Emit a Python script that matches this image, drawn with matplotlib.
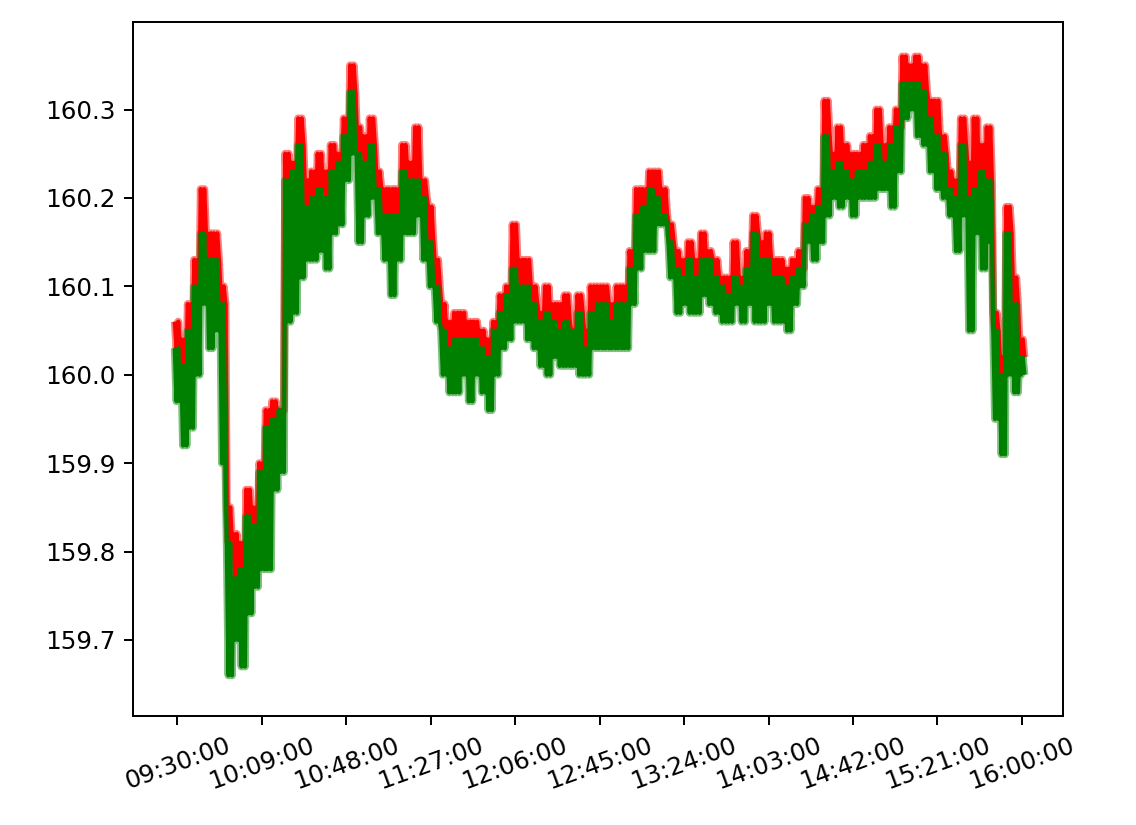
"""Bid/ask tick chart for one trading day (09:30-16:00)."""
import numpy as np
import matplotlib

matplotlib.use("Agg")
import matplotlib.pyplot as plt

# minutes after 09:30, sampled every 3 minutes
minutes = list(range(0, 391, 3))

ask_high = [
    160.06, 160.04, 160.08, 160.13, 160.21, 160.16, 160.16, 160.10, 159.85, 159.82,
    159.81, 159.87, 159.85, 159.90, 159.96, 159.97, 159.96, 160.25, 160.24, 160.29,
    160.22, 160.23, 160.25, 160.23, 160.26, 160.25, 160.29, 160.35, 160.28, 160.27,
    160.29, 160.23, 160.21, 160.21, 160.21, 160.26, 160.24, 160.28, 160.22, 160.19,
    160.13, 160.08, 160.06, 160.07, 160.07, 160.06, 160.06, 160.05, 160.04, 160.06,
    160.09, 160.10, 160.17, 160.13, 160.13, 160.10, 160.07, 160.10, 160.08, 160.08,
    160.09, 160.05, 160.09, 160.05, 160.10, 160.10, 160.10, 160.08, 160.10, 160.10,
    160.14, 160.21, 160.21, 160.23, 160.23, 160.21, 160.17, 160.14, 160.13, 160.15,
    160.13, 160.16, 160.14, 160.13, 160.11, 160.11, 160.15, 160.11, 160.14, 160.18,
    160.15, 160.16, 160.13, 160.13, 160.12, 160.13, 160.14, 160.20, 160.19, 160.21,
    160.31, 160.25, 160.28, 160.26, 160.25, 160.25, 160.26, 160.27, 160.30, 160.26,
    160.28, 160.30, 160.36, 160.35, 160.36, 160.35, 160.31, 160.31, 160.27, 160.23,
    160.22, 160.29, 160.24, 160.29, 160.26, 160.28, 160.07, 160.02, 160.19, 160.11,
    160.04,
]

bid_high = [
    160.03, 160.01, 160.05, 160.10, 160.16, 160.13, 160.13, 160.08, 159.81, 159.77,
    159.78, 159.84, 159.83, 159.89, 159.94, 159.95, 159.96, 160.22, 160.23, 160.26,
    160.19, 160.20, 160.21, 160.20, 160.23, 160.24, 160.27, 160.32, 160.25, 160.24,
    160.26, 160.21, 160.18, 160.18, 160.18, 160.23, 160.22, 160.22, 160.20, 160.15,
    160.10, 160.05, 160.03, 160.04, 160.04, 160.04, 160.04, 160.03, 160.02, 160.05,
    160.07, 160.09, 160.12, 160.10, 160.10, 160.08, 160.06, 160.07, 160.06, 160.05,
    160.06, 160.05, 160.07, 160.03, 160.07, 160.08, 160.08, 160.06, 160.08, 160.08,
    160.12, 160.18, 160.19, 160.21, 160.20, 160.18, 160.15, 160.12, 160.11, 160.13,
    160.11, 160.13, 160.13, 160.11, 160.10, 160.09, 160.11, 160.10, 160.12, 160.16,
    160.13, 160.13, 160.11, 160.11, 160.10, 160.11, 160.12, 160.17, 160.18, 160.19,
    160.27, 160.23, 160.24, 160.23, 160.22, 160.23, 160.23, 160.24, 160.26, 160.24,
    160.26, 160.28, 160.33, 160.33, 160.33, 160.32, 160.29, 160.27, 160.25, 160.21,
    160.20, 160.26, 160.20, 160.21, 160.23, 160.22, 160.05, 160.00, 160.16, 160.08,
    160.02,
]

bid_low = [
    159.97, 159.92, 159.94, 160.00, 160.08, 160.03, 160.05, 159.90, 159.66, 159.70,
    159.67, 159.73, 159.76, 159.78, 159.78, 159.87, 159.89, 160.06, 160.07, 160.11,
    160.13, 160.13, 160.14, 160.12, 160.16, 160.17, 160.22, 160.25, 160.15, 160.18,
    160.20, 160.16, 160.13, 160.09, 160.13, 160.16, 160.16, 160.18, 160.13, 160.10,
    160.06, 160.00, 159.98, 159.98, 160.00, 159.97, 160.00, 159.98, 159.96, 160.00,
    160.03, 160.04, 160.06, 160.06, 160.04, 160.03, 160.01, 160.00, 160.02, 160.01,
    160.01, 160.01, 160.00, 160.00, 160.03, 160.03, 160.03, 160.03, 160.03, 160.03,
    160.08, 160.12, 160.14, 160.14, 160.17, 160.17, 160.11, 160.07, 160.08, 160.07,
    160.07, 160.09, 160.08, 160.07, 160.06, 160.06, 160.08, 160.06, 160.08, 160.06,
    160.06, 160.08, 160.06, 160.06, 160.05, 160.08, 160.10, 160.15, 160.13, 160.15,
    160.18, 160.20, 160.19, 160.20, 160.18, 160.20, 160.20, 160.20, 160.21, 160.21,
    160.19, 160.23, 160.29, 160.30, 160.27, 160.26, 160.23, 160.21, 160.20, 160.18,
    160.14, 160.18, 160.05, 160.16, 160.12, 160.15, 159.95, 159.91, 160.00, 159.98,
    160.00,
]

tick_labels = ["09:30:00", "10:09:00", "10:48:00", "11:27:00", "12:06:00", "12:45:00",
               "13:24:00", "14:03:00", "14:42:00", "15:21:00", "16:00:00"]
tick_minutes = [0, 39, 78, 117, 156, 195, 234, 273, 312, 351, 390]


def zigzag(t, hi, lo):
    # swing between each interval's high and low a few times, like dense ticks
    t = np.asarray(t, dtype=float)
    offs = [-1.2, -0.4, 0.4, 1.2]
    xs = np.column_stack([t + o for o in offs]).ravel()
    ys = np.column_stack([hi, lo, hi, lo]).ravel()
    return xs, ys


fig = plt.figure(figsize=(1136 / 177.5, 825 / 177.5), dpi=177.5)
ax = fig.add_axes([133 / 1136, 1 - 716 / 825, (1063 - 133) / 1136, (716 - 22) / 825])

rx, ry = zigzag(minutes, ask_high, bid_high)
gx, gy = zigzag(minutes, bid_high, bid_low)

ax.plot(rx, ry, color="red", lw=3.2, alpha=0.5, solid_capstyle="butt")
ax.plot(gx, gy, color="green", lw=3.2, alpha=0.5, solid_capstyle="butt")
ax.plot(rx, ry, color="red", lw=1.7, solid_capstyle="butt")
ax.plot(gx, gy, color="green", lw=1.7, solid_capstyle="butt")

ax.set_xlim(-20.5, 409)
ax.set_ylim(159.614, 160.399)
ax.set_yticks([159.7, 159.8, 159.9, 160.0, 160.1, 160.2, 160.3])
ax.set_yticklabels(["159.7", "159.8", "159.9", "160.0", "160.1", "160.2", "160.3"])
ax.set_xticks(tick_minutes)
ax.set_xticklabels(tick_labels, rotation=20)

fig.savefig("out.png", dpi=177.5, facecolor="white")
